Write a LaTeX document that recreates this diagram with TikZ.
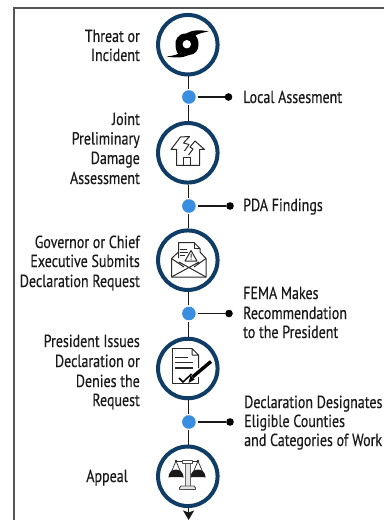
\documentclass[tikz,border=0pt]{standalone}
\usepackage{fontspec}
\setmainfont[FakeStretch=0.8,FakeBold=0.35]{PT Sans}
\usetikzlibrary{arrows.meta}
\definecolor{ringc}{HTML}{0F3D66}
\definecolor{dotc}{HTML}{3A8EE0}
\definecolor{framec}{HTML}{555555}
\definecolor{inkc}{HTML}{2A2A2A}
\tikzset{
 x=1bp,y=-1bp,
 stage/.style={circle,draw=ringc,line width=4bp,minimum size=59.5bp,inner sep=0pt,fill=white},
 junction/.style={circle,fill=dotc,minimum size=13.6bp,inner sep=0pt,outer sep=1.5bp},
 enddot/.style={circle,fill=black,minimum size=7.6bp,inner sep=0pt},
 link/.style={draw=black!90,line width=1.6bp},
 lab/.style={font=\fontsize{17.5bp}{19.5bp}\selectfont,text=black!90,inner sep=0pt},
 llab/.style={lab,anchor=base east,align=right},
 rlab/.style={lab,anchor=base west,align=left},
 icon/.style={draw=inkc,line width=1bp,line join=round},
}
\begin{document}
\begin{tikzpicture}
\useasboundingbox (0,0) rectangle (384,520);
\fill[white] (0,0) rectangle (384,520);
\draw[framec,line width=1.5bp] (384,8) -- (14,8) -- (14,520);

\node[stage] (c1) at (187.8,44.7) {};
\node[stage] (c2) at (187.8,152.8) {};
\node[stage] (c3) at (187.8,260.2) {};
\node[stage] (c4) at (187.8,368.5) {};
\node[stage] (c5) at (187.8,476.3) {};
\node[junction] (d1) at (188.9,97) {};
\node[junction] (d2) at (188.9,206) {};
\node[junction] (d3) at (188.9,313.5) {};
\node[junction] (d4) at (188.9,422) {};
\node[enddot] (e1) at (228.5,97) {};
\node[enddot] (e2) at (230,206) {};
\node[enddot] (e3) at (229,313.5) {};
\node[enddot] (e4) at (230,422) {};
\coordinate (tail) at (188.6,520);

\foreach \u/\d/\v in {c1/d1/c2,c2/d2/c3,c3/d3/c4,c4/d4/c5}{
  \draw[link] (\d.north -| 188.4,0) -- (\u.south -| 188.4,0);
  \draw[link] (\d.south -| 188.4,0) -- (\v.north -| 188.4,0);
}
\foreach \d/\e in {d1/e1,d2/e2,d3/e3,d4/e4}{
  \draw[link] ([xshift=1bp]\d.east) -- (\e);
}
\draw[link,-{Stealth[length=9.5bp,width=11bp,inset=2bp]}] (c5.south -| tail) -- (tail);

% hurricane
\fill[black] (208.5,31.5) .. controls (200,29.5) and (192,30) .. (186,33.5)
  .. controls (178,33.5) and (174.5,40) .. (175.5,46)
  .. controls (176,50) and (177,53) .. (178,54)
  .. controls (174,55.5) and (171,56) .. (166.5,56.5)
  .. controls (175,58) and (183,58) .. (189,55)
  .. controls (195,55) and (199,50) .. (198.5,44)
  .. controls (198.5,40) and (197,37) .. (195.5,35.5)
  .. controls (199,33.5) and (203,32.5) .. (208.5,31.5) -- cycle;
\fill[white] (186.8,44.2) circle (4.2);

% damaged house
\draw[icon] (184.5,151) -- (189,144.5) -- (183.5,143) -- (189.5,136.5) -- (180.5,137) -- (171,149.5) -- (176.5,149.5) -- (176.5,165.5) -- (199.5,165.5) -- (199.5,149.5) -- (204.5,149.5) -- (195,141) -- (190,147) -- (193,149) -- (188.5,155);
\draw[icon] (183.5,165.5) -- (183.5,157.5) -- (190.5,157.5) -- (190.5,165.5);

% envelope and notice
\draw[icon] (178.5,258) -- (178.5,242.5) -- (194,242.5) -- (200,248.5) -- (200,252);
\draw[icon] (194,242.5) -- (194,248.5) -- (200,248.5);
\draw[icon] (179.5,249) -- (187,249) (179.5,252) -- (188,252) (179.5,255) -- (185,255);
\draw[icon] (171.5,258.5) -- (171.5,277) -- (206,277) -- (206,258.5) -- (200,252) (178.5,252) -- (171.5,258.5);
\draw[icon] (171.5,277) -- (199,262) (206,277) -- (179,262) (171.5,258.5) -- (184,267) (206,258.5) -- (194,267);
\draw[icon,fill=white] (191,250.5) -- (197,261) -- (185,261) -- cycle;
\fill[inkc] (190.5,253.5) rectangle (191.5,257.5) (190.5,258.5) rectangle (191.5,259.6);

% signed document
\draw[icon] (192,348.5) -- (172.5,348.5) -- (172.5,383) -- (198.5,383) -- (198.5,377);
\draw[icon] (198.5,368) -- (198.5,355) -- (192,348.5) -- (192,355) -- (198.5,355);
\draw[inkc,line width=1.2bp] (175,357.5) -- (188,357.5) (175,362.5) -- (193,362.5) (175,368) -- (193,368);
\draw[black,line width=1.5bp] (179,378) -- (183,382) -- (191.5,374);
\draw[black,line width=3.4bp] (192.5,377) -- (211,361.5);
\fill[black] (188.5,383) -- (190.5,375.5) -- (194.5,379.5) -- cycle;

% scales
\draw[icon,line width=.7bp] (176,461) -- (169,477.5) (176,461) -- (183,477.5) (198,461) -- (191,477.5) (198,461) -- (205,477.5);
\fill[black!90] (168.5,477) arc[start angle=180,end angle=360,radius=7.5] -- cycle;
\fill[black!90] (190.5,477) arc[start angle=180,end angle=360,radius=7.5] -- cycle;
\draw[icon,line width=.9bp] (176,461.3) -- (198,461.3);
\draw[icon,draw=black!60,fill=black!10,line width=.8bp] (185,463) rectangle (190,487);
\draw[icon,draw=black!70,fill=white,line width=.9bp] (182.5,460) rectangle (192.5,463.5);
\draw[icon,draw=black!70,fill=black!10,line width=.9bp] (179.5,489.5) -- (179.5,487.8) -- (181,486) -- (194,486) -- (195.5,487.8) -- (195.5,489.5) -- cycle;
\fill[inkc] (176,461) circle (1.3) (198,461) circle (1.3);

% labels
\node[llab] (t1a) at (140,42) {Threat or};
\node[llab] (t1b) at (140,61) {Incident};
\node[llab] (t2a) at (140,125) {Joint};
\node[llab] (t2b) at (140,144.5) {Preliminary};
\node[llab] (t2c) at (140,164) {Damage};
\node[llab] (t2d) at (140,184) {Assessment};
\node[llab] (t3a) at (140,248) {Governor or Chief};
\node[llab] (t3b) at (140,267) {Executive Submits};
\node[llab] (t3c) at (140,287) {Declaration Request};
\node[llab] (t4a) at (140,347) {President Issues};
\node[llab] (t4b) at (140,367) {Declaration or};
\node[llab] (t4c) at (140,387) {Denies the};
\node[llab] (t4d) at (140,406) {Request};
\node[llab] (t5) at (128,482) {Appeal};
\node[rlab] (r1) at (243,103) {Local Assesment};
\node[rlab] (r2) at (243,211) {PDA Findings};
\node[rlab] (r3a) at (243,299) {FEMA Makes};
\node[rlab] (r3b) at (243,319) {Recommendation};
\node[rlab] (r3c) at (243,338) {to the President};
\node[rlab] (r4a) at (244,408) {Declaration Designates};
\node[rlab] (r4b) at (244,427) {Eligible Counties};
\node[rlab] (r4c) at (244,446) {and Categories of Work};
\end{tikzpicture}
\end{document}
